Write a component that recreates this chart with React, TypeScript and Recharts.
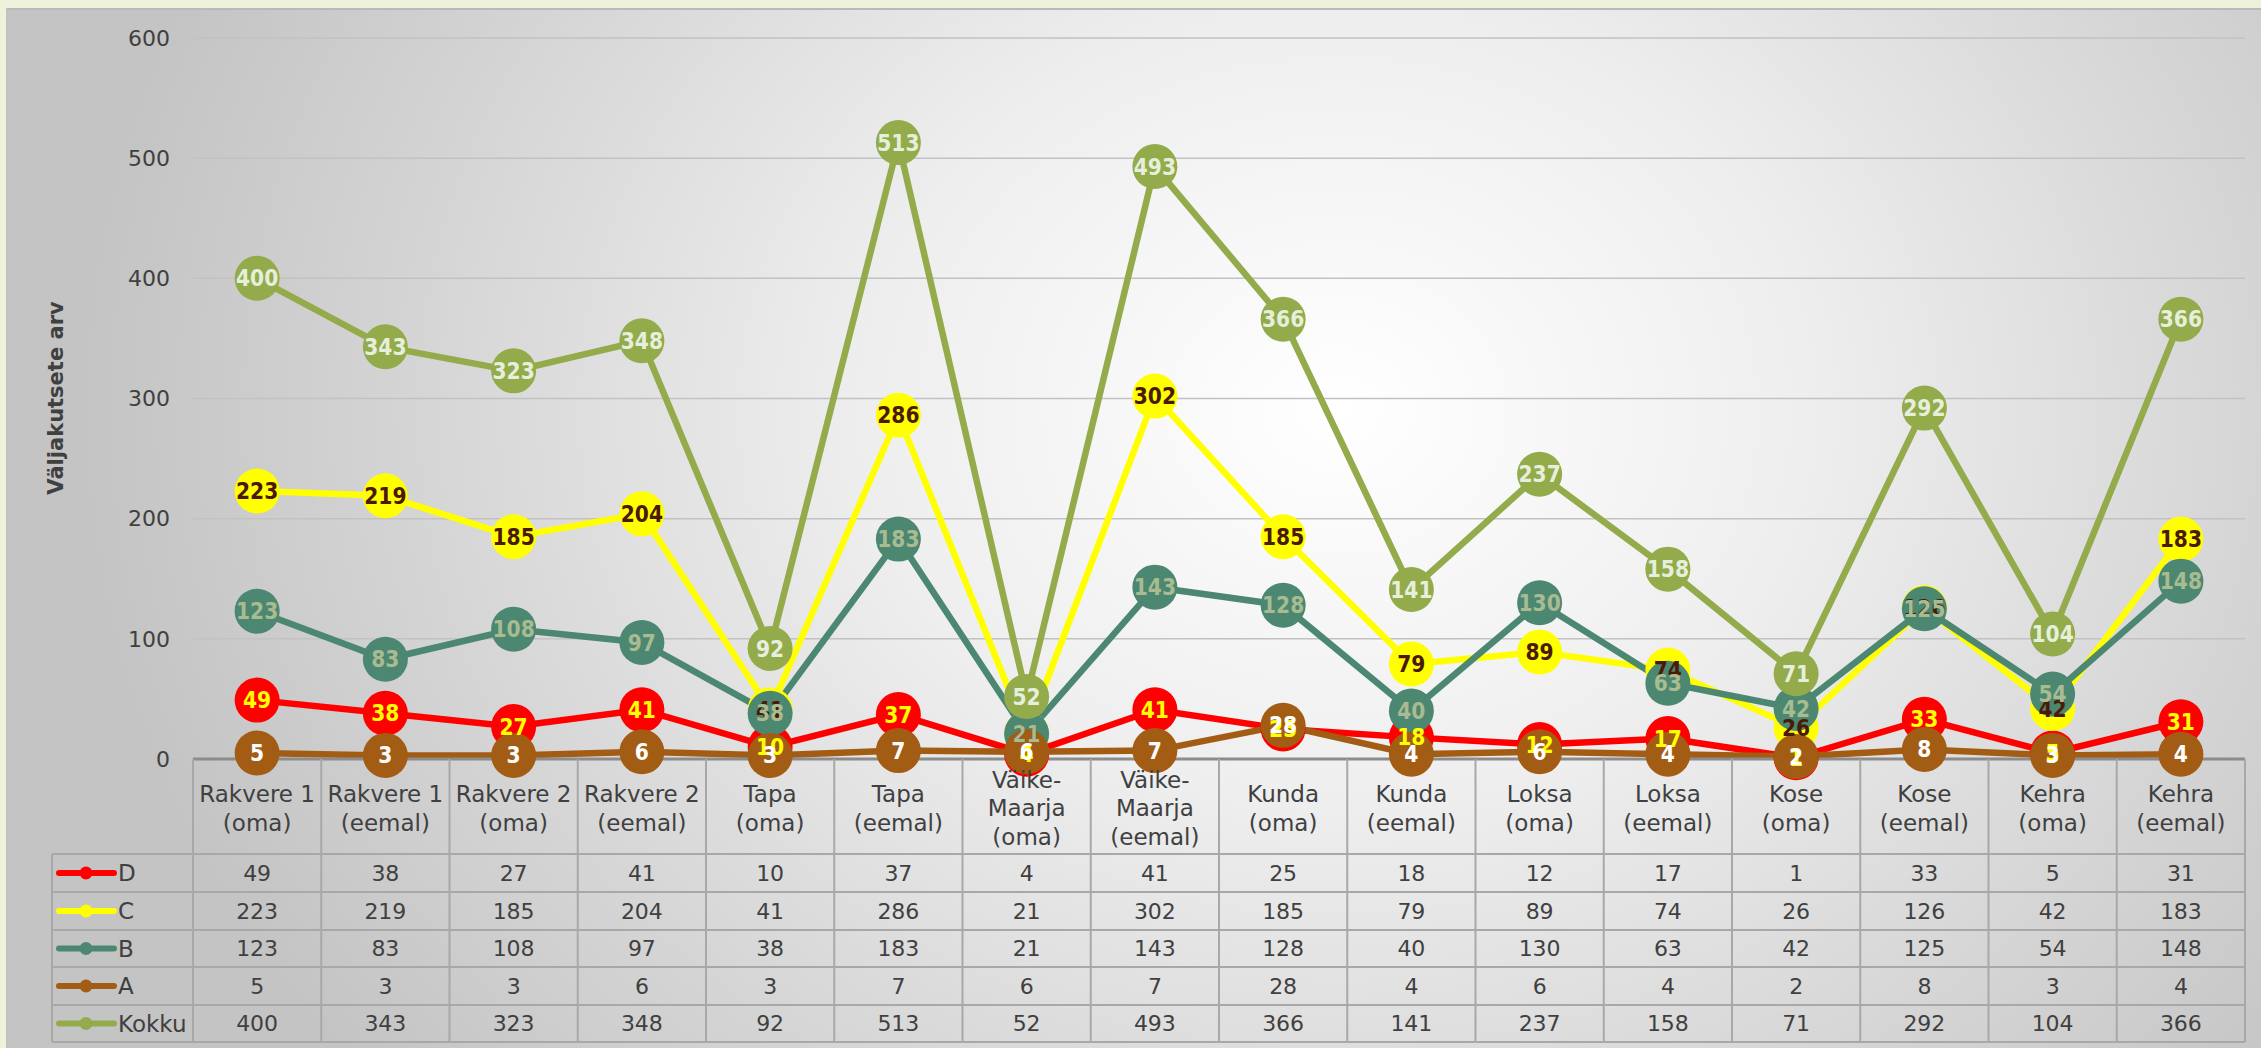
import React from 'react';
import { LineChart, Line, XAxis, YAxis, CartesianGrid, LabelList } from 'recharts';

// ---------- data ----------
const categories = [
  'Rakvere 1\n(oma)', 'Rakvere 1\n(eemal)', 'Rakvere 2\n(oma)', 'Rakvere 2\n(eemal)',
  'Tapa\n(oma)', 'Tapa\n(eemal)', 'Väike-\nMaarja\n(oma)', 'Väike-\nMaarja\n(eemal)',
  'Kunda\n(oma)', 'Kunda\n(eemal)', 'Loksa\n(oma)', 'Loksa\n(eemal)',
  'Kose\n(oma)', 'Kose\n(eemal)', 'Kehra\n(oma)', 'Kehra\n(eemal)',
];
const valuesD = [49, 38, 27, 41, 10, 37, 4, 41, 25, 18, 12, 17, 1, 33, 5, 31];
const valuesC = [223, 219, 185, 204, 41, 286, 21, 302, 185, 79, 89, 74, 26, 126, 42, 183];
const valuesB = [123, 83, 108, 97, 38, 183, 21, 143, 128, 40, 130, 63, 42, 125, 54, 148];
const valuesA = [5, 3, 3, 6, 3, 7, 6, 7, 28, 4, 6, 4, 2, 8, 3, 4];
const valuesKokku = [400, 343, 323, 348, 92, 513, 52, 493, 366, 141, 237, 158, 71, 292, 104, 366];
const yTicks = [0, 100, 200, 300, 400, 500, 600];
const yTitle = 'Väljakutsete arv';

const SERIES = [
  { key: 'D', values: valuesD, color: '#FF0000', labelColor: '#FFFF00' },
  { key: 'C', values: valuesC, color: '#FFFF00', labelColor: '#4A1A06' },
  { key: 'B', values: valuesB, color: '#4B8771', labelColor: '#A9BB90' },
  { key: 'A', values: valuesA, color: '#A35C14', labelColor: '#FFFFFF' },
  { key: 'Kokku', values: valuesKokku, color: '#93AB4B', labelColor: '#E6EFDC' },
];

const data = categories.map((c, i) => {
  const row: any = { cat: c };
  SERIES.forEach((s) => { row[s.key] = s.values[i]; });
  return row;
});

// ---------- layout ----------
const W = 2261;
const H = 1048;
const PLOT_LEFT = 193;
const PLOT_RIGHT = 2245;
const PLOT_TOP = 38;
const AXIS_Y = 759;
const TABLE_BOTTOM = 1042;
const Y_AXIS_W = 60;
const BW = (PLOT_RIGHT - PLOT_LEFT) / categories.length;
// row boundaries relative to the axis line
const ROW_OFFS = [0, 95, 133, 171, 208, 246, 283];
const FONT = "'DejaVu Sans', sans-serif";
const BOLD_FONT = "'DejaVu Sans Condensed', 'DejaVu Sans', sans-serif";
const TEXT = '#404040';
const TABLE_LINE = '#a8a8a8';

function TableColumn(props: any) {
  const { x, y, payload } = props;
  const i = payload?.index ?? props.index;
  const left = x - BW / 2;
  const right = x + BW / 2;
  const lines = String(payload.value).split('\n');
  const lh = 28.5;
  const hc = y + 49;
  const startY = hc - ((lines.length - 1) * lh) / 2;
  return (
    <g>
      <line x1={left} x2={left} y1={y} y2={y + ROW_OFFS[6]} stroke={TABLE_LINE} strokeWidth={2} />
      {i === categories.length - 1 && (
        <line x1={right} x2={right} y1={y} y2={y + ROW_OFFS[6]} stroke={TABLE_LINE} strokeWidth={2} />
      )}
      {ROW_OFFS.slice(1).map((o) => (
        <line key={o} x1={left} x2={right} y1={y + o} y2={y + o} stroke={TABLE_LINE} strokeWidth={2} />
      ))}
      {lines.map((t, k) => (
        <text key={k} x={x} y={startY + k * lh} dy="0.36em" textAnchor="middle" fill={TEXT} fontSize={23} fontFamily={FONT}>
          {t}
        </text>
      ))}
      {SERIES.map((s, r) => (
        <text key={s.key} x={x} y={y + (ROW_OFFS[r + 1] + ROW_OFFS[r + 2]) / 2} dy="0.36em" textAnchor="middle" fill={TEXT} fontSize={22} fontFamily={FONT}>
          {s.values[i]}
        </text>
      ))}
    </g>
  );
}

function makeLabel(color: string) {
  return (p: any) => {
    const x = p.x ?? p.viewBox?.x;
    const y = p.y ?? p.viewBox?.y;
    if (x == null || y == null) return null;
    return (
      <text x={x} y={y} dy="0.36em" textAnchor="middle" fill={color} fontSize={22.5} fontWeight="bold" fontFamily={BOLD_FONT}>
        {p.value}
      </text>
    );
  };
}

function Overlay() {
  const legLeft = 52;
  return (
    <svg width={W} height={H} style={{ position: 'absolute', left: 0, top: 0, pointerEvents: 'none' }}>
      <text transform={`translate(56,398) rotate(-90)`} textAnchor="middle" dy="0.35em" fill={TEXT} fontSize={21} fontWeight="bold" fontFamily={FONT}>
        {yTitle}
      </text>
      <line x1={legLeft} x2={legLeft} y1={AXIS_Y + ROW_OFFS[1]} y2={AXIS_Y + ROW_OFFS[6]} stroke={TABLE_LINE} strokeWidth={2} />
      {ROW_OFFS.slice(1).map((o) => (
        <line key={o} x1={legLeft} x2={PLOT_LEFT} y1={AXIS_Y + o} y2={AXIS_Y + o} stroke={TABLE_LINE} strokeWidth={2} />
      ))}
      {SERIES.map((s, r) => {
        const cy = AXIS_Y + (ROW_OFFS[r + 1] + ROW_OFFS[r + 2]) / 2;
        return (
          <g key={s.key}>
            <line x1={59} x2={114} y1={cy} y2={cy} stroke={s.color} strokeWidth={6} strokeLinecap="round" />
            <circle cx={86} cy={cy} r={6.5} fill={s.color} />
            <text x={118} y={cy} dy="0.36em" fill={TEXT} fontSize={23} fontFamily={FONT}>
              {s.key}
            </text>
          </g>
        );
      })}
    </svg>
  );
}

export default function App() {
  return (
    <div style={{ position: 'absolute', left: 0, top: 0, width: W, height: H, overflow: 'hidden', background: '#eef2da' }}>
      <div
        style={{
          position: 'absolute', left: 6, top: 8, width: W - 6, height: H - 8,
          borderTop: '2px solid #b9b9b9', borderLeft: '2px solid #c2c2c2', boxSizing: 'border-box',
          background: 'radial-gradient(ellipse 1250px 1050px at 1330px 400px, #ffffff 0%, #eeeeee 38%, #d6d6d6 72%, #c4c4c4 100%)',
        }}
      />
      <div style={{ position: 'absolute', left: 0, top: 0 }}>
        <LineChart
          width={W}
          height={H}
          data={data}
          margin={{ top: PLOT_TOP, right: W - PLOT_RIGHT, bottom: H - TABLE_BOTTOM, left: PLOT_LEFT - Y_AXIS_W }}
        >
          <CartesianGrid vertical={false} stroke="#c2c2c2" strokeWidth={1.5} />
          <YAxis
            width={Y_AXIS_W}
            domain={[0, 600]}
            ticks={yTicks}
            interval={0}
            axisLine={false}
            tickLine={false}
            tickSize={0}
            tickMargin={23}
            tick={{ fill: TEXT, fontSize: 22, fontFamily: FONT }}
          />
          <XAxis
            dataKey="cat"
            height={TABLE_BOTTOM - AXIS_Y}
            interval={0}
            padding={{ left: BW / 2, right: BW / 2 }}
            tickLine={false}
            tickSize={0}
            tickMargin={0}
            axisLine={{ stroke: '#8c8c8c', strokeWidth: 3 }}
            tick={(p: any) => <TableColumn {...p} />}
          />
          {SERIES.map((s) => (
            <Line
              key={s.key}
              dataKey={s.key}
              stroke={s.color}
              strokeWidth={6.5}
              dot={{ r: 22.5, fill: s.color, stroke: s.color, strokeWidth: 0 }}
              activeDot={false}
              isAnimationActive={false}
              legendType="none"
            />
          ))}
          {SERIES.map((s) => (
            <Line
              key={s.key + '-labels'}
              dataKey={s.key}
              stroke="none"
              strokeWidth={0}
              dot={false}
              activeDot={false}
              isAnimationActive={false}
              legendType="none"
            >
              <LabelList dataKey={s.key} content={makeLabel(s.labelColor)} />
            </Line>
          ))}
        </LineChart>
      </div>
      <Overlay />
    </div>
  );
}
